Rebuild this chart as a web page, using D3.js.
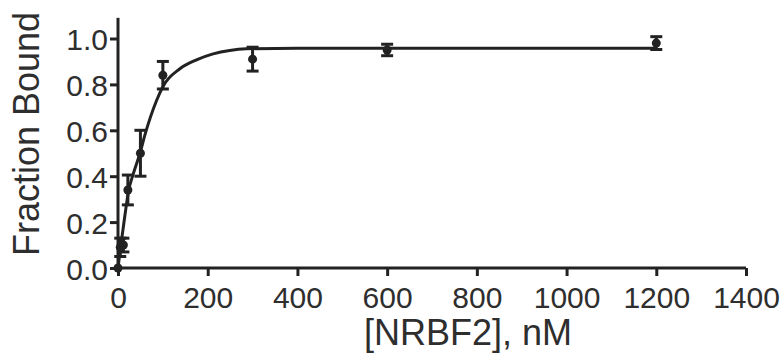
<!DOCTYPE html>
<html>
<head>
<meta charset="utf-8">
<script src="https://cdn.jsdelivr.net/npm/d3@7"></script>
<style>
  body { margin: 0; background: #fff; }
  svg { display: block; }
</style>
</head>
<body>
<div id="chart"></div>
<script>
// measured points: concentration (nM), fraction bound, error
var conc = [0, 5, 12, 22, 50, 100, 300, 600, 1200],
    frac = [0, 0.09, 0.10, 0.34, 0.50, 0.84, 0.91, 0.95, 0.98],
    err  = [0, 0.04, 0.03, 0.065, 0.10, 0.06, 0.052, 0.025, 0.028];

// fitted curve
var fitX = [0, 5, 12, 24, 34, 49, 60, 86, 100, 138, 175, 212, 249, 286, 400, 600, 1200],
    fitY = [0, 0.08, 0.18, 0.34, 0.41, 0.50, 0.58, 0.73, 0.79, 0.868, 0.907, 0.933, 0.948, 0.955, 0.958, 0.958, 0.958];

var xTicks = [0, 200, 400, 600, 800, 1000, 1200, 1400],
    yTicks = [0, 0.2, 0.4, 0.6, 0.8, 1.0];

var W = 782, H = 358,
    ink = "#222",
    font = "'Liberation Sans', Arial, sans-serif";

var svg = d3.select("#chart").append("svg").attr("width", W).attr("height", H);

var x = d3.scaleLinear().domain([0, 1400]).range([118, 746]);
var y = d3.scaleLinear().domain([0, 1]).range([268, 38.5]);

// axes
var xAxis = svg.append("g")
    .attr("transform", "translate(0," + y(0) + ")")
    .call(d3.axisBottom(x).tickValues(xTicks).tickFormat(d3.format("d")).tickSize(8).tickSizeOuter(0).tickPadding(11));
var yAxis = svg.append("g")
    .attr("transform", "translate(" + x(0) + ",0)")
    .call(d3.axisLeft(y).tickValues(yTicks).tickFormat(d3.format(".1f")).tickSize(8).tickSizeOuter(0).tickPadding(2));

// y axis runs a bit above 1.0
yAxis.select(".domain").attr("d", "M0," + (y(0) + 1.5) + "V" + y(1.09));

[xAxis, yAxis].forEach(function (a) {
  a.selectAll(".domain, .tick line").attr("stroke", ink).attr("stroke-width", 3);
  a.selectAll(".tick text")
    .attr("fill", "#2e2e2e")
    .style("font-family", font)
    .style("font-size", "30px");
});
yAxis.selectAll(".tick text").attr("dy", "0.38em");
xAxis.select(".domain").attr("d", "M" + (x(0) - 1.5) + ",0H" + x(1400));

// axis titles
svg.append("text")
  .attr("x", 468).attr("y", 345)
  .attr("text-anchor", "middle")
  .attr("fill", "#2e2e2e")
  .style("font-family", font)
  .style("font-size", "36px")
  .text("[NRBF2], nM");

svg.append("text")
  .attr("transform", "translate(38.5,134) rotate(-90)")
  .attr("text-anchor", "middle")
  .attr("fill", "#2e2e2e")
  .style("font-family", font)
  .style("font-size", "36px")
  .text("Fraction Bound");

// fit curve
var line = d3.line()
    .x(function (d, i) { return x(fitX[i]); })
    .y(function (d) { return y(d); })
    .curve(d3.curveMonotoneX);

svg.append("path")
  .datum(fitY)
  .attr("d", line)
  .attr("fill", "none")
  .attr("stroke", ink)
  .attr("stroke-width", 3);

// error bars + points
var pts = svg.append("g").selectAll("g")
  .data(conc.map(function (c, i) { return { c: c, v: frac[i], e: err[i] }; }))
  .join("g");

pts.filter(function (d) { return d.e > 0; }).each(function (d) {
  var g = d3.select(this), cx = x(d.c), hw = 6;
  g.append("line")
    .attr("x1", cx).attr("x2", cx)
    .attr("y1", y(d.v - d.e)).attr("y2", y(d.v + d.e));
  g.append("line")
    .attr("x1", cx - hw).attr("x2", cx + hw)
    .attr("y1", y(d.v + d.e)).attr("y2", y(d.v + d.e));
  g.append("line")
    .attr("x1", cx - hw).attr("x2", cx + hw)
    .attr("y1", y(d.v - d.e)).attr("y2", y(d.v - d.e));
  g.selectAll("line").attr("stroke", ink).attr("stroke-width", 3);
});

pts.append("circle")
  .attr("cx", function (d) { return x(d.c); })
  .attr("cy", function (d) { return y(d.v); })
  .attr("r", 4.5)
  .attr("fill", ink);
</script>
</body>
</html>
